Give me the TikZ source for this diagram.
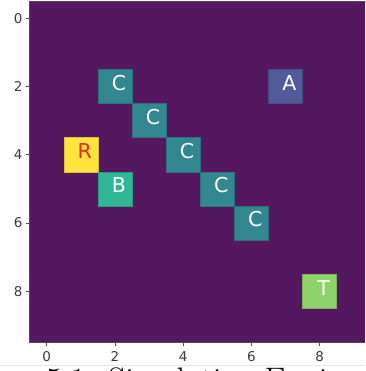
\documentclass[tikz,border=0pt]{standalone}
\usepackage{fontspec}
\newfontfamily\plotfont{DejaVu Sans}
\usetikzlibrary{positioning}
\definecolor{gridbg}{RGB}{86,23,97}
\definecolor{cellc}{RGB}{50,135,145}
\definecolor{cella}{RGB}{82,91,154}
\definecolor{cellr}{RGB}{254,228,60}
\definecolor{cellb}{RGB}{48,183,150}
\definecolor{cellt}{RGB}{140,212,105}
\definecolor{rtext}{RGB}{235,45,30}
\definecolor{ticktext}{RGB}{60,60,60}
\tikzset{cell/.style={minimum size=34.1pt,inner sep=0pt,draw=#1!85!black,line width=0.4pt,fill=#1},
  letter/.style={font=\plotfont\fontsize{20.5}{24}\selectfont,text=white,xshift=4pt,yshift=3.6pt},
  ticklabel/.style={font=\plotfont\fontsize{13.5}{16}\selectfont,text=ticktext,inner sep=1pt},
  tick/.style={black!70,line width=0.6pt}}

\begin{document}
\begin{tikzpicture}[x=1pt, y=-1pt]
\useasboundingbox (0,0) rectangle (365,371);
\clip (0,0) rectangle (365,371);
\begin{scope}[shift={(46.75,18.35)}, x=34.1pt, y=-34.1pt]
\fill[gridbg] (-0.5,-0.5) rectangle (9.5,9.5);
\foreach \k in {2,...,6}
  \node[cell=cellc, label={[letter]center:C}] (c\k) at (\k,\k) {};
\node[cell=cella, label={[letter]center:A}] (agent) at (7,2) {};
\node[cell=cellr, label={[letter,text=rtext]center:R}] (robot) at (1,4) {};
\node[cell=cellb, label={[letter]center:B}] (base) at (2,5) {};
\node[cell=cellt, label={[letter]center:T}] (target) at (8,8) {};
\draw[tick] (-0.5,-0.5) rectangle (9.5,9.5);
\foreach \i in {0,2,4,6,8} {
  \draw[tick] (-0.5,\i) -- ++(-4pt,0) node[ticklabel, left=2pt] (ylab\i) {\i};
  \draw[tick] (\i,9.5) -- ++(0,-4pt) node[ticklabel, below=4pt] (xlab\i) {\i};
}
\end{scope}
\draw[black!10] (0,365) -- (365,365);
\node[anchor=base west, inner sep=0pt, font=\fontsize{34}{40}\selectfont] (caption) at (46,391) {5.1: Simulation Environment};
\end{tikzpicture}
\end{document}
